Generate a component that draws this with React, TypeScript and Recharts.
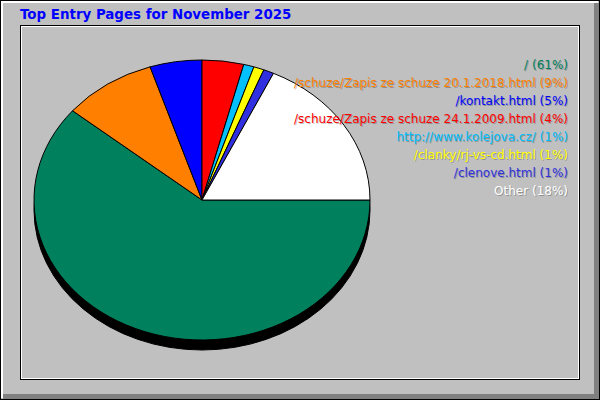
import React from 'react';
import { PieChart, Pie, Cell, Legend } from 'recharts';

const title = 'Top Entry Pages for November 2025';

const pages = [
  '/',
  '/schuze/Zapis ze schuze 20.1.2018.html',
  '/kontakt.html',
  '/schuze/Zapis ze schuze 24.1.2009.html',
  'http://www.kolejova.cz/',
  '/clanky/rj-vs-cd.html',
  '/clenove.html',
  'Other',
];

const percents = [61, 9, 5, 4, 1, 1, 1, 18];

const colors = ['#00805C', '#FF8000', '#0000FF', '#FF0000', '#00C0FF', '#FFFF00', '#3030E0', '#FFFFFF'];

const shadowData = [{ name: 'shadow', value: 1 }];

const RY_RATIO = 140 / 168;
const RAD = Math.PI / 180;

// recharts pies are round, the original is squashed, so draw each slice as an elliptical arc
const ellipseSlice = (props: any) => {
  const { cx, cy, outerRadius, startAngle, endAngle, fill, stroke } = props;
  const rx = outerRadius;
  const ry = outerRadius * RY_RATIO;
  if (Math.abs(endAngle - startAngle) >= 359.9) {
    return <ellipse cx={cx} cy={cy} rx={rx} ry={ry} fill={fill} stroke={stroke} strokeWidth={1} />;
  }
  const x1 = cx + rx * Math.cos(startAngle * RAD);
  const y1 = cy - ry * Math.sin(startAngle * RAD);
  const x2 = cx + rx * Math.cos(endAngle * RAD);
  const y2 = cy - ry * Math.sin(endAngle * RAD);
  const large = Math.abs(endAngle - startAngle) > 180 ? 1 : 0;
  const sweep = endAngle < startAngle ? 1 : 0;
  const d = `M${cx},${cy} L${x1},${y1} A${rx},${ry} 0 ${large} ${sweep} ${x2},${y2} Z`;
  return <path d={d} fill={fill} stroke={stroke} strokeWidth={1} strokeLinejoin="round" />;
};

const legendContent = () => (
  <div style={{ textAlign: 'right', fontFamily: '"DejaVu Sans", sans-serif', fontSize: 12, lineHeight: '18px' }}>
    {pages.map((p, i) => (
      <div
        key={p}
        style={{ color: colors[i], whiteSpace: 'nowrap', textShadow: '1px 1px 0 rgba(0,0,0,0.25)' }}
      >
        {`${p} (${percents[i]}%)`}
      </div>
    ))}
  </div>
);

const abs = (s: React.CSSProperties): React.CSSProperties => ({ position: 'absolute', boxSizing: 'border-box', ...s });

const App: React.FC = () => {
  const data = pages.map((name, i) => ({ name, value: percents[i], fill: colors[i] }));
  return (
    <div style={abs({ left: 0, top: 0, width: 600, height: 400, background: '#C0C0C0' })}>
      {/* bevelled frame */}
      <div style={abs({ left: 0, top: 0, width: 600, height: 400, border: '1px solid #000' })} />
      <div style={abs({ left: 1, top: 1, width: 597, height: 2, background: '#FFFFFF' })} />
      <div style={abs({ left: 1, top: 1, width: 2, height: 397, background: '#FFFFFF' })} />
      <div style={abs({ left: 594, top: 3, width: 5, height: 396, background: '#808080' })} />
      <div style={abs({ left: 3, top: 394, width: 596, height: 5, background: '#808080' })} />
      <div style={abs({ left: 20, top: 25, width: 560, height: 355, border: '1px solid #000' })} />
      <div style={abs({ left: 21, top: 26, width: 558, height: 353, border: '1px solid #FFFFFF' })} />
      <div
        style={abs({
          left: 20,
          top: 8,
          color: '#0000FF',
          fontFamily: '"DejaVu Sans", sans-serif',
          fontWeight: 'bold',
          fontSize: 13.4,
          lineHeight: '13px',
          whiteSpace: 'nowrap',
        })}
      >
        {title}
      </div>
      <div style={abs({ left: 0, top: 0 })}>
        <PieChart width={600} height={400} margin={{ top: 0, right: 0, bottom: 0, left: 0 }}>
          <Pie
            data={shadowData}
            dataKey="value"
            cx={202}
            cy={210}
            outerRadius={168}
            startAngle={0}
            endAngle={-360}
            fill="#000000"
            stroke="#000000"
            legendType="none"
            shape={ellipseSlice}
            activeShape={ellipseSlice}
            inactiveShape={ellipseSlice}
            isAnimationActive={false}
          />
          <Pie
            data={data}
            dataKey="value"
            nameKey="name"
            cx={202}
            cy={200}
            outerRadius={168}
            startAngle={0}
            endAngle={-360}
            stroke="#000000"
            strokeWidth={1}
            shape={ellipseSlice}
            activeShape={ellipseSlice}
            inactiveShape={ellipseSlice}
            isAnimationActive={false}
          >
            {data.map((d) => (
              <Cell key={d.name} fill={d.fill} />
            ))}
          </Pie>
          <Legend
            content={legendContent}
            layout="vertical"
            align="right"
            verticalAlign="top"
            width={368}
            wrapperStyle={{ position: 'absolute', left: 200, top: 56, width: 368 }}
          />
        </PieChart>
      </div>
    </div>
  );
};

export default App;
